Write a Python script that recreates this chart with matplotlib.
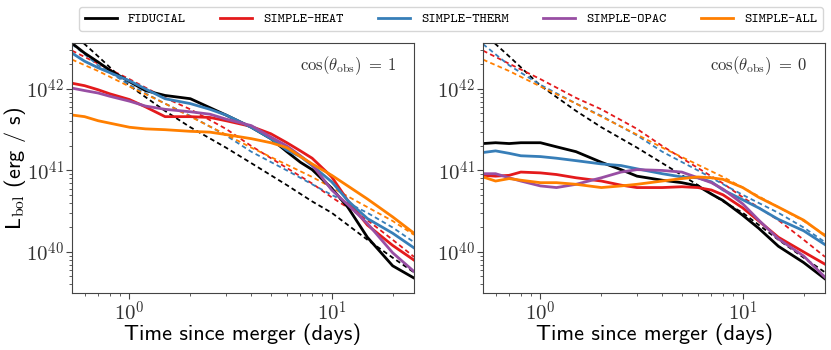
import numpy as np
import matplotlib
matplotlib.use('Agg')
import matplotlib.pyplot as plt
from matplotlib.ticker import FuncFormatter, NullFormatter

plt.rcParams['mathtext.fontset'] = 'cm'

# time grid (days) of the light curves
t = [0.52, 0.6, 0.7, 0.8, 1.0, 1.2, 1.5, 2.0, 2.5, 3.0, 4.0, 5.0, 6.0, 7.0,
     8.0, 10.0, 12.0, 15.0, 20.0, 25.5]

# log10 L_bol (erg/s), cos(theta_obs) = 1
fid_on = [42.56, 42.44, 42.33, 42.23, 42.09, 41.98, 41.92, 41.88, 41.77, 41.68,
          41.53, 41.39, 41.23, 41.10, 41.01, 40.78, 40.55, 40.18, 39.83, 39.68]
heat_on = [42.07, 42.04, 41.99, 41.94, 41.87, 41.78, 41.66, 41.66, 41.65, 41.61,
           41.54, 41.45, 41.34, 41.24, 41.15, 40.92, 40.63, 40.33, 40.08, 39.90]
therm_on = [42.44, 42.34, 42.26, 42.20, 42.10, 42.00, 41.88, 41.82, 41.75, 41.68,
            41.53, 41.39, 41.25, 41.17, 41.06, 40.86, 40.63, 40.41, 40.23, 40.05]
opac_on = [42.01, 41.98, 41.95, 41.91, 41.85, 41.79, 41.75, 41.72, 41.69, 41.63,
           41.55, 41.41, 41.30, 41.18, 41.07, 40.76, 40.58, 40.35, 39.99, 39.76]
all_on = [41.68, 41.66, 41.61, 41.58, 41.53, 41.51, 41.50, 41.48, 41.47, 41.44,
          41.39, 41.34, 41.28, 41.17, 41.08, 40.94, 40.81, 40.65, 40.43, 40.23]

# log10 L_bol (erg/s), cos(theta_obs) = 0
fid_off = [41.33, 41.34, 41.33, 41.34, 41.34, 41.29, 41.23, 41.10, 41.01, 40.93,
           40.88, 40.85, 40.81, 40.71, 40.63, 40.45, 40.29, 40.07, 39.87, 39.67]
heat_off = [40.94, 40.93, 40.94, 40.98, 40.97, 40.95, 40.91, 40.87, 40.82, 40.79,
            40.79, 40.80, 40.79, 40.76, 40.70, 40.54, 40.38, 40.18, 40.00, 39.85]
therm_off = [41.22, 41.24, 41.21, 41.18, 41.17, 41.15, 41.12, 41.08, 41.06, 41.02,
             40.96, 40.92, 40.91, 40.86, 40.76, 40.64, 40.54, 40.40, 40.26, 40.09]
opac_off = [40.96, 40.96, 40.91, 40.87, 40.81, 40.79, 40.83, 40.91, 40.98, 41.01,
            41.00, 40.98, 40.91, 40.85, 40.77, 40.59, 40.39, 40.16, 39.95, 39.69]
all_off = [40.92, 40.87, 40.90, 40.88, 40.85, 40.85, 40.83, 40.79, 40.81, 40.83,
           40.87, 40.90, 40.92, 40.91, 40.89, 40.79, 40.67, 40.55, 40.39, 40.20]

# heating-rate curves (dashed), same in both panels
t_fit = [0.52, 0.7, 1.0, 1.5, 2.0, 3.0, 4.0, 6.0, 8.0, 10.0, 15.0, 20.0, 25.5]
fid_fit = [42.69, 42.40, 42.04, 41.73, 41.53, 41.28, 41.09, 40.82, 40.62, 40.48,
           40.15, 39.93, 39.75]
heat_fit = [42.47, 42.31, 42.12, 41.89, 41.75, 41.51, 41.30, 41.03, 40.84, 40.67,
            40.39, 40.15, 39.94]
therm_fit = [42.55, 42.29, 42.05, 41.82, 41.67, 41.43, 41.23, 41.00, 40.83, 40.70,
             40.48, 40.30, 40.12]
all_fit = [42.36, 42.22, 42.03, 41.82, 41.66, 41.44, 41.28, 41.07, 40.92, 40.79,
           40.55, 40.38, 40.21]

names = ['FIDUCIAL', 'SIMPLE-HEAT', 'SIMPLE-THERM', 'SIMPLE-OPAC', 'SIMPLE-ALL']
colors = ['black', '#e41a1c', '#377eb8', '#984ea3', '#ff7f00']
panels = [
    ([fid_on, heat_on, therm_on, opac_on, all_on], r'$\cos(\theta_{\rm obs})\;=\;1$'),
    ([fid_off, heat_off, therm_off, opac_off, all_off], r'$\cos(\theta_{\rm obs})\;=\;0$'),
]
fits = [fid_fit, heat_fit, therm_fit, None, all_fit]

fig = plt.figure(figsize=(8.31, 3.5), dpi=100)
ax_left = fig.add_axes([72/831, 0.1637, 342/831, 0.7126])
ax_right = fig.add_axes([483/831, 0.1637, 342/831, 0.7126])

fmt = FuncFormatter(lambda v, pos: r'$10^{%d}$' % int(round(np.log10(v))))

handles = []
for ax, (curves, title) in zip([ax_left, ax_right], panels):
    for i in range(5):
        if fits[i] is not None:
            ax.plot(t_fit, 10**np.array(fits[i]), color=colors[i], lw=1.3,
                    dashes=(2.6, 1.8))
    for i in range(5):
        ln, = ax.plot(t, 10**np.array(curves[i]), color=colors[i], lw=2.0,
                      label=names[i])
        if ax is ax_left:
            handles.append(ln)
    ax.set_xscale('log')
    ax.set_yscale('log')
    ax.set_xlim(0.52, 25.5)
    ax.set_ylim(10**39.5, 10**42.56)
    ax.xaxis.set_major_formatter(fmt)
    ax.yaxis.set_major_formatter(fmt)
    ax.xaxis.set_minor_formatter(NullFormatter())
    ax.yaxis.set_minor_formatter(NullFormatter())
    ax.tick_params(which='major', labelsize=15, labelcolor='#333333', length=4,
                   color='#444444', pad=2)
    ax.tick_params(which='minor', length=2, color='#444444')
    for s in ax.spines.values():
        s.set_color('#444444')
    ax.set_xlabel('Time since merger (days)', family='cmss10', fontsize=16,
                  labelpad=-1)
    ax.text(0.95, 0.91, title, transform=ax.transAxes, ha='right', va='center',
            fontsize=12, color='#333333')

ax_left.set_ylabel(r'L$_{\rm bol}$ (erg / s)', family='cmss10', fontsize=16)
ax_left.yaxis.set_label_coords(-0.13, 0.5)

fig.legend(handles, names, loc='lower left', mode='expand', ncol=5,
           bbox_to_anchor=(79/831, 1 - 31/350, 744/831, 26/350),
           prop={'family': 'cmtt10', 'size': 10}, handlelength=2.3,
           borderaxespad=0, fancybox=True, edgecolor='#cccccc')

fig.savefig('out.png', dpi=100)
